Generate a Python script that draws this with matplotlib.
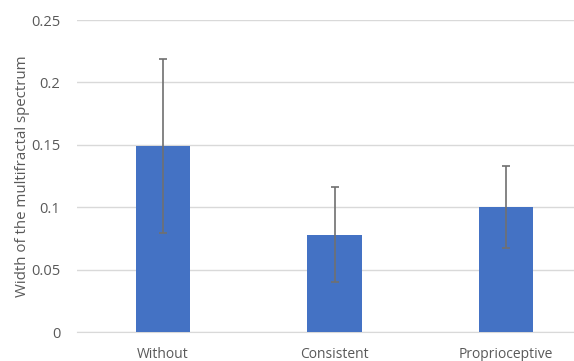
import matplotlib
matplotlib.use("Agg")
import matplotlib.pyplot as plt

categories = ["Without", "Consistent", "Proprioceptive"]
values = [0.149, 0.078, 0.100]
errors = [0.070, 0.038, 0.033]
yticks = [0, 0.05, 0.1, 0.15, 0.2, 0.25]
ytick_labels = ["0", "0.05", "0.1", "0.15", "0.2", "0.25"]

plt.rcParams['font.family'] = ['Open Sans', 'DejaVu Sans']
fig = plt.figure(figsize=(5.74, 3.61), dpi=100)
W, H = 574, 361
# axes extends beyond the right edge (chart is cropped)
left, right = 77, 592
bottom, top = 332, 20
ax = fig.add_axes([left / W, 1 - bottom / H, (right - left) / W, (bottom - top) / H])

x = list(range(len(categories)))
ax.bar(x, values, width=0.315, color="#4472C4", zorder=3)
ax.errorbar(x, values, yerr=errors, fmt="none", ecolor="#707070", elinewidth=1.2,
            capsize=3, capthick=1.2, zorder=4)

ax.set_xlim(-0.5, len(categories) - 0.5)
ax.set_ylim(0, 0.25)
ax.set_yticks(yticks)
ax.set_yticklabels(ytick_labels)
ax.set_xticks(x)
ax.set_xticklabels(categories)
ax.yaxis.grid(True, color="#d9d9d9", linewidth=1, zorder=0)
ax.set_axisbelow(True)
for s in ["top", "right", "left"]:
    ax.spines[s].set_visible(False)
ax.spines["bottom"].set_color("#d9d9d9")
ax.tick_params(axis="y", length=0, labelcolor="#595959", labelsize=10.5, pad=12)
ax.tick_params(axis="x", length=0, labelcolor="#595959", labelsize=10, pad=11)
ax.set_ylabel("Width of the multifractal spectrum", color="#595959", fontsize=10.8, labelpad=1)

fig.savefig("out.png", dpi=100)
